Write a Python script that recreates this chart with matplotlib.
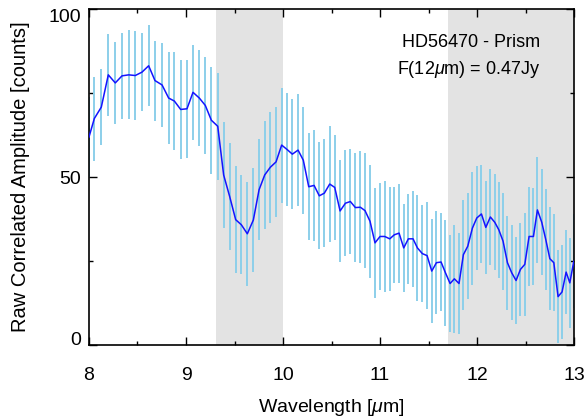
import matplotlib
matplotlib.use('Agg')
import matplotlib.pyplot as plt

plt.rcParams['font.family'] = 'Liberation Sans'
plt.rcParams['mathtext.fontset'] = 'custom'
plt.rcParams['mathtext.rm'] = 'Liberation Sans'
plt.rcParams['mathtext.it'] = 'Liberation Sans:italic'

# wavelength [um], amplitude [counts], error [counts]
wavelength = [8.000, 8.055, 8.127, 8.199, 8.271, 8.340, 8.409, 8.477, 8.546, 8.615,
              8.680, 8.753, 8.821, 8.880, 8.945, 9.010, 9.072, 9.137, 9.199, 9.261,
              9.327, 9.388, 9.450, 9.512, 9.570, 9.632, 9.694, 9.753, 9.811, 9.869,
              9.928, 9.986, 10.041, 10.096, 10.155, 10.209, 10.265, 10.320, 10.374, 10.426,
              10.481, 10.533, 10.588, 10.643, 10.694, 10.746, 10.797, 10.845, 10.897, 10.948,
              11.000, 11.048, 11.100, 11.147, 11.196, 11.244, 11.292, 11.340, 11.385, 11.436,
              11.485, 11.533, 11.581, 11.629, 11.674, 11.722, 11.766, 11.814, 11.859, 11.904,
              11.952, 11.997, 12.045, 12.090, 12.137, 12.183, 12.224, 12.268, 12.313, 12.357,
              12.402, 12.447, 12.492, 12.536, 12.581, 12.622, 12.667, 12.708, 12.750, 12.791,
              12.835, 12.876, 12.918, 12.956, 12.997]
amplitude = [61.9, 67.4, 70.8, 80.4, 78.0, 80.1, 80.4, 80.2, 81.2, 83.1,
             78.7, 77.4, 73.5, 72.6, 70.1, 70.3, 75.2, 73.5, 71.3, 66.9,
             65.1, 50.6, 44.2, 37.3, 35.8, 33.1, 37.2, 46.2, 50.6, 52.9,
             54.5, 59.5, 58.2, 56.8, 58.0, 55.0, 47.1, 47.5, 44.4, 45.2,
             47.9, 46.9, 39.9, 42.2, 42.7, 40.9, 41.0, 40.0, 36.8, 30.4,
             32.3, 32.3, 31.6, 32.8, 33.3, 28.9, 31.6, 31.6, 28.9, 27.2,
             26.6, 22.0, 24.5, 24.7, 21.5, 18.3, 19.7, 18.3, 26.9, 29.4,
             34.8, 37.8, 39.0, 35.0, 38.1, 36.5, 34.3, 30.9, 24.5, 21.5,
             19.2, 22.5, 24.0, 32.3, 32.3, 40.2, 36.5, 31.4, 25.7, 24.5,
             14.4, 15.8, 21.7, 18.5, 24.9]
error = [12.0, 12.5, 11.4, 12.2, 12.3, 12.7, 13.2, 13.3, 11.6, 12.0,
         11.9, 12.4, 13.6, 14.5, 14.6, 14.6, 14.2, 14.2, 14.5, 15.9,
         15.9, 15.9, 16.0, 16.0, 14.8, 15.4, 15.4, 15.0, 16.0, 16.5,
         16.4, 17.1, 16.9, 16.4, 16.7, 15.9, 15.9, 16.5, 15.9, 16.0,
         17.2, 15.7, 15.3, 15.8, 15.7, 16.2, 16.6, 17.2, 16.9, 16.3,
         15.9, 16.5, 15.4, 14.3, 14.7, 13.1, 13.4, 14.2, 15.8, 14.4,
         15.9, 15.4, 15.4, 14.5, 15.7, 14.5, 16.0, 15.1, 16.4, 15.8,
         16.8, 15.5, 14.6, 13.9, 14.2, 14.3, 14.3, 14.4, 14.0, 14.2,
         13.0, 13.9, 15.3, 14.7, 14.5, 15.8, 15.8, 15.1, 15.4, 14.4,
         13.9, 14.0, 12.6, 13.3, 14.0]

# shaded (bad atmospheric) bands
bands = [(9.31, 10.0), (11.7, 13.0)]

fig = plt.figure(figsize=(5.87, 4.18), dpi=100)
ax = fig.add_axes([0.1516, 0.1746, 0.8264, 0.8039])

for lo, hi in bands:
    ax.axvspan(lo, hi, color='#e3e3e3', lw=0, zorder=0)

ax.errorbar(wavelength, amplitude, yerr=error, fmt='none', ecolor='#8ccfea',
            elinewidth=1.4, capsize=0, zorder=2)
ax.plot(wavelength, amplitude, color='#1414ff', lw=1.1, zorder=3)

ax.set_xlim(8, 13)
ax.set_ylim(0, 100)
ax.set_xticks([8, 9, 10, 11, 12, 13])
ax.set_xticks([8.5, 9.5, 10.5, 11.5, 12.5], minor=True)
ax.set_yticks([0, 50, 100])
ax.set_yticks([25, 75], minor=True)
ax.tick_params(which='both', direction='in', top=True, right=True, labelsize=14)
ax.tick_params(which='major', length=6, width=1)
ax.tick_params(which='minor', length=3, width=1)
ax.tick_params(axis='x', pad=16)
ax.tick_params(axis='y', pad=6)
ylabels = ax.get_yticklabels()
ylabels[0].set_va('baseline')
ylabels[-1].set_va('top')

for s in ax.spines.values():
    s.set_linewidth(1.2)

ax.set_xlabel(r'Wavelength [$\mu$m]', fontsize=14, labelpad=9)
ax.set_ylabel('Raw Correlated Amplitude [counts]', fontsize=14.5, labelpad=13)

ax.text(0.93, 0.90, 'HD56470 - Prism', transform=ax.transAxes, ha='right',
        va='center', fontsize=13)
ax.text(0.93, 0.82, r'F(12$\mu$m) = 0.47Jy', transform=ax.transAxes, ha='right',
        va='center', fontsize=13)

fig.savefig('out.png', dpi=100)
